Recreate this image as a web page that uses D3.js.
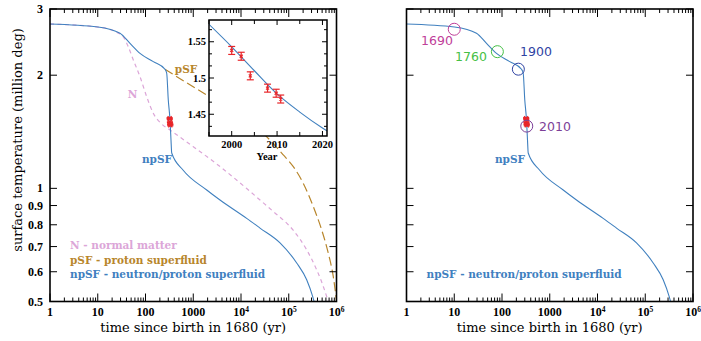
<!DOCTYPE html>
<html>
<head>
<meta charset="utf-8">
<script src="https://cdn.jsdelivr.net/npm/d3@7"></script>
<style>
	body { margin: 0; background: #fff; }
	svg { display: block; }
	text { font-family: 'DejaVu Serif', serif; }
</style>
</head>
<body>
<svg id="chart" width="701" height="341"></svg>
<script>
/* global d3 */

// cooling curves: [years since 1680, surface temperature in million deg]
const npsfCurve = [
	[1, 2.736], [10.1, 2.686], [29.2, 2.585], [47.4, 2.431], [76.7, 2.287],
	[145.6, 2.173], [256, 2.074], [278, 2.024], [300, 1.718], [326, 1.52],
	[342, 1.345], [354, 1.242], [610, 1.119], [1914, 0.99], [3634, 0.931],
	[13150, 0.832], [25000, 0.784], [65600, 0.716], [146700, 0.633],
	[237500, 0.571], [317500, 0.515], [346000, 0.495]
];
const psfCurve = [
	[256, 2.074], [1914, 1.771], [12130, 1.538], [31800, 1.386], [76900, 1.227],
	[124500, 1.142], [201700, 1.031], [326800, 0.894], [489800, 0.775],
	[673000, 0.672], [857000, 0.582], [1000000, 0.503]
];
const normalCurve = [
	[1, 2.736], [10.1, 2.686], [31.7, 2.558], [43.6, 2.381], [55.6, 2.195],
	[76.7, 1.982], [106, 1.753], [145.6, 1.584], [218, 1.483], [326, 1.43],
	[988, 1.292], [3100, 1.161], [13150, 0.999], [25000, 0.931], [47400, 0.868],
	[122700, 0.775], [237500, 0.686], [384900, 0.607], [529600, 0.548],
	[623700, 0.515], [680000, 0.497]
];

// Chandra measurements (inset)
const obsYears = [2000.0, 2002.1, 2004.1, 2007.9, 2009.8, 2010.8];
const obsTemps = [1.538, 1.530, 1.503, 1.486, 1.479, 1.471];
const obsErrors = [0.0055, 0.0055, 0.0055, 0.0055, 0.0055, 0.0055];
const fitYears = [1995, 2000, 2005, 2010, 2015, 2020, 2021];
const fitTemps = [1.574, 1.543, 1.510, 1.478, 1.453, 1.431, 1.427];

// right panel epochs
const markYears = [1690, 1760, 1900, 2010];
const markTemps = [2.65, 2.31, 2.075, 1.464];
const markColors = ['#c0409a', '#45c045', '#2f43a3', '#7d3f98'];

const BIRTH = 1680;
const xTickValues = [1, 10, 100, 1000, 1e4, 1e5, 1e6];
const xTickLabels = [['1'], ['10'], ['100'], ['1000'], ['10', '4'], ['10', '5'], ['10', '6']];
const yTickValues = [3, 2, 1, 0.9, 0.8, 0.7, 0.6, 0.5];
const insetXTicks = [1995, 2000, 2005, 2010, 2015, 2020];
const insetXLabels = [2000, 2010, 2020];
const insetYLabels = [1.55, 1.5, 1.45];

const BLUE = '#4080bf';
const GOLD = '#b8862c';
const PINK = '#dca6d8';
const RED = '#e8262a';

const TOP = 9;
const BOTTOM = 301.5;
const PW = 286.5;

const svg = d3.select('#chart');

function drawPanel(left, opts) {
	const x = d3.scaleLog([1, 1e6], [left, left + PW]);
	const y = d3.scaleLog([0.5, 3], [BOTTOM, TOP]);
	const g = svg.append('g');
	const clipId = `clip-${opts.id}`;

	g.append('clipPath')
		.attr('id', clipId)
		.append('rect')
		.attr('x', left)
		.attr('y', TOP)
		.attr('width', PW)
		.attr('height', BOTTOM - TOP);

	const line = d3
		.line()
		.x((d) => x(d[0]))
		.y((d) => y(d[1]))
		.curve(d3.curveMonotoneX);

	const curves = g.append('g').attr('clip-path', `url(#${clipId})`);

	if (opts.full) {
		curves.append('path')
			.attr('d', line(normalCurve))
			.attr('fill', 'none')
			.attr('stroke', PINK)
			.attr('stroke-width', 1.2)
			.attr('stroke-dasharray', '4,3.5');
		curves.append('path')
			.attr('d', line(psfCurve))
			.attr('fill', 'none')
			.attr('stroke', GOLD)
			.attr('stroke-width', 1.2)
			.attr('stroke-dasharray', '9,4');
	}
	curves.append('path')
		.attr('d', line(npsfCurve))
		.attr('fill', 'none')
		.attr('stroke', BLUE)
		.attr('stroke-width', 1.1);

	// measurements at their age
	const obs = g.append('g').attr('stroke', RED).attr('stroke-width', 1.1);
	obsYears.forEach((yr, i) => {
		const cx = x(yr - BIRTH);
		const hi = y(obsTemps[i] + obsErrors[i]);
		const lo = y(obsTemps[i] - obsErrors[i]);
		obs.append('line').attr('x1', cx).attr('x2', cx).attr('y1', hi).attr('y2', lo);
		obs.append('line').attr('x1', cx - 3).attr('x2', cx + 3).attr('y1', hi).attr('y2', hi);
		obs.append('line').attr('x1', cx - 3).attr('x2', cx + 3).attr('y1', lo).attr('y2', lo);
		const cy = y(obsTemps[i]);
		obs.append('path').attr('d', `M${cx - 2},${cy - 2}L${cx + 2},${cy + 2}M${cx - 2},${cy + 2}L${cx + 2},${cy - 2}`);
	});

	if (opts.markers) {
		markYears.forEach((yr, i) => {
			g.append('circle')
				.attr('cx', x(yr - BIRTH))
				.attr('cy', y(markTemps[i]))
				.attr('r', 6)
				.attr('fill', 'none')
				.attr('stroke', markColors[i])
				.attr('stroke-width', 1);
		});
		const labelPos = [[437, 45], [471, 61], [536, 56], [555, 131]];
		markYears.forEach((yr, i) => {
			g.append('text')
				.attr('x', labelPos[i][0])
				.attr('y', labelPos[i][1])
				.attr('text-anchor', 'middle')
				.attr('fill', markColors[i])
				.style('font-family', "'DejaVu Sans', sans-serif")
				.style('font-size', '12.5px')
				.text(yr);
		});
	}

	/** FRAME + TICKS *********************************************************/
	g.append('rect')
		.attr('x', left)
		.attr('y', TOP)
		.attr('width', PW)
		.attr('height', BOTTOM - TOP)
		.attr('fill', 'none')
		.attr('stroke', '#000')
		.attr('stroke-width', 1.6);

	const minors = [];
	for (let e = 0; e < 6; e++) {
		for (let m = 2; m < 10; m++) minors.push(m * Math.pow(10, e));
	}
	const ticks = g.append('g').attr('stroke', '#000').attr('stroke-width', 1);
	xTickValues.forEach((v) => {
		ticks.append('line').attr('x1', x(v)).attr('x2', x(v)).attr('y1', BOTTOM).attr('y2', BOTTOM - 8);
		ticks.append('line').attr('x1', x(v)).attr('x2', x(v)).attr('y1', TOP).attr('y2', TOP + 8);
	});
	minors.forEach((v) => {
		ticks.append('line').attr('x1', x(v)).attr('x2', x(v)).attr('y1', BOTTOM).attr('y2', BOTTOM - 4);
		ticks.append('line').attr('x1', x(v)).attr('x2', x(v)).attr('y1', TOP).attr('y2', TOP + 4);
	});
	yTickValues.forEach((v) => {
		ticks.append('line').attr('x1', left).attr('x2', left + 7).attr('y1', y(v)).attr('y2', y(v));
		ticks.append('line').attr('x1', left + PW).attr('x2', left + PW - 7).attr('y1', y(v)).attr('y2', y(v));
	});

	xTickValues.forEach((v, i) => {
		const t = g.append('text')
			.attr('x', x(v))
			.attr('y', 316)
			.attr('text-anchor', 'middle')
			.style('font-family', "'Liberation Serif', serif")
			.style('font-weight', 'bold')
			.style('font-size', '12px');
		t.append('tspan').text(xTickLabels[i][0]);
		if (xTickLabels[i][1]) {
			t.append('tspan').attr('dy', -4.5).style('font-size', '7.5px').text(xTickLabels[i][1]);
		}
	});

	if (opts.yLabels) {
		yTickValues.forEach((v) => {
			g.append('text')
				.attr('x', left - 7)
				.attr('y', y(v) + 4)
				.attr('text-anchor', 'end')
				.style('font-family', "'Liberation Serif', serif")
				.style('font-weight', 'bold')
				.style('font-size', '12px')
				.text(v);
		});
		g.append('text')
			.attr('transform', 'translate(22,140) rotate(-90)')
			.attr('text-anchor', 'middle')
			.style('font-size', '13px')
			.text('surface temperature  (million deg)');
	}

	g.append('text')
		.attr('x', left + PW / 2)
		.attr('y', 332)
		.attr('text-anchor', 'middle')
		.style('font-size', '13px')
		.text('time since birth in 1680 (yr)');

	/** LABELS ****************************************************************/
	const bold = (sel) => sel
		.style('font-weight', 'bold')
		.style('font-size', '10.5px');
	if (opts.full) {
		bold(g.append('text').attr('x', 132.5).attr('y', 98).attr('text-anchor', 'middle').attr('fill', PINK).style('font-size', '11.5px').text('N'));
		bold(g.append('text').attr('x', 186).attr('y', 73).attr('text-anchor', 'middle').attr('fill', GOLD).style('font-size', '11.5px').text('pSF'));
		bold(g.append('text').attr('x', left + 20).attr('y', 249).attr('fill', PINK).text('N - normal matter'));
		bold(g.append('text').attr('x', left + 20).attr('y', 263.5).attr('fill', GOLD).text('pSF - proton superfluid'));
	}
	bold(g.append('text').attr('x', opts.npsfLabel[0]).attr('y', opts.npsfLabel[1]).attr('text-anchor', 'middle').attr('fill', BLUE).style('font-size', '11.5px').text('npSF'));
	bold(g.append('text').attr('x', left + 20).attr('y', 278).attr('fill', BLUE).text('npSF - neutron/proton superfluid'));

	if (opts.full) drawInset();
}

function drawInset() {
	const L = 209, R = 327, T = 20, B = 136;
	const x = d3.scaleLinear([1995, 2021], [L, R]);
	const y = d3.scaleLinear([1.42, 1.58], [B, T]);
	const g = svg.append('g');

	g.append('rect').attr('x', L).attr('y', T).attr('width', R - L).attr('height', B - T).attr('fill', '#fff');

	g.append('clipPath').attr('id', 'clip-inset')
		.append('rect').attr('x', L).attr('y', T).attr('width', R - L).attr('height', B - T);

	g.append('path')
		.attr('clip-path', 'url(#clip-inset)')
		.attr('d', d3.line().x((d, i) => x(fitYears[i])).y((d) => y(d)).curve(d3.curveMonotoneX)(fitTemps))
		.attr('fill', 'none')
		.attr('stroke', BLUE)
		.attr('stroke-width', 1.1);

	const obs = g.append('g').attr('stroke', RED).attr('stroke-width', 1.2);
	obsYears.forEach((yr, i) => {
		const cx = x(yr);
		const cy = y(obsTemps[i]);
		const hi = y(obsTemps[i] + obsErrors[i]);
		const lo = y(obsTemps[i] - obsErrors[i]);
		obs.append('line').attr('x1', cx).attr('x2', cx).attr('y1', hi).attr('y2', lo);
		obs.append('line').attr('x1', cx - 3.5).attr('x2', cx + 3.5).attr('y1', hi).attr('y2', hi);
		obs.append('line').attr('x1', cx - 3.5).attr('x2', cx + 3.5).attr('y1', lo).attr('y2', lo);
		obs.append('path').attr('d', `M${cx - 1.5},${cy - 1.5}L${cx + 1.5},${cy + 1.5}M${cx - 1.5},${cy + 1.5}L${cx + 1.5},${cy - 1.5}`);
	});

	g.append('rect').attr('x', L).attr('y', T).attr('width', R - L).attr('height', B - T)
		.attr('fill', 'none').attr('stroke', '#000').attr('stroke-width', 1.5);

	const ticks = g.append('g').attr('stroke', '#000').attr('stroke-width', 1);
	insetXTicks.forEach((v) => {
		const len = v % 10 === 0 ? 5 : 4;
		ticks.append('line').attr('x1', x(v)).attr('x2', x(v)).attr('y1', B).attr('y2', B - len);
		ticks.append('line').attr('x1', x(v)).attr('x2', x(v)).attr('y1', T).attr('y2', T + len);
	});
	for (let k = -1; k <= 7; k++) {
		const v = 1.55 - (k * 0.05) / 3;
		if (v < 1.42 || v > 1.58) continue;
		const len = k % 3 === 0 ? 5 : 3;
		ticks.append('line').attr('x1', L).attr('x2', L + len).attr('y1', y(v)).attr('y2', y(v));
		ticks.append('line').attr('x1', R).attr('x2', R - len).attr('y1', y(v)).attr('y2', y(v));
	}

	const lbl = (sel) => sel
		.style('font-family', "'Liberation Serif', serif")
		.style('font-weight', 'bold')
		.style('font-size', '10.5px');
	insetXLabels.forEach((v) => {
		lbl(g.append('text').attr('x', x(v)).attr('y', 148).attr('text-anchor', 'middle').text(v));
	});
	insetYLabels.forEach((v) => {
		lbl(g.append('text').attr('x', L - 3).attr('y', y(v) + 3.5).attr('text-anchor', 'end').text(v));
	});
	lbl(g.append('text').attr('x', 267).attr('y', 160).attr('text-anchor', 'middle').text('Year'));
}

drawPanel(50, { id: 'left', full: true, yLabels: true, npsfLabel: [157, 163] });
drawPanel(406.5, { id: 'right', markers: true, npsfLabel: [510, 163] });
</script>
</body>
</html>
